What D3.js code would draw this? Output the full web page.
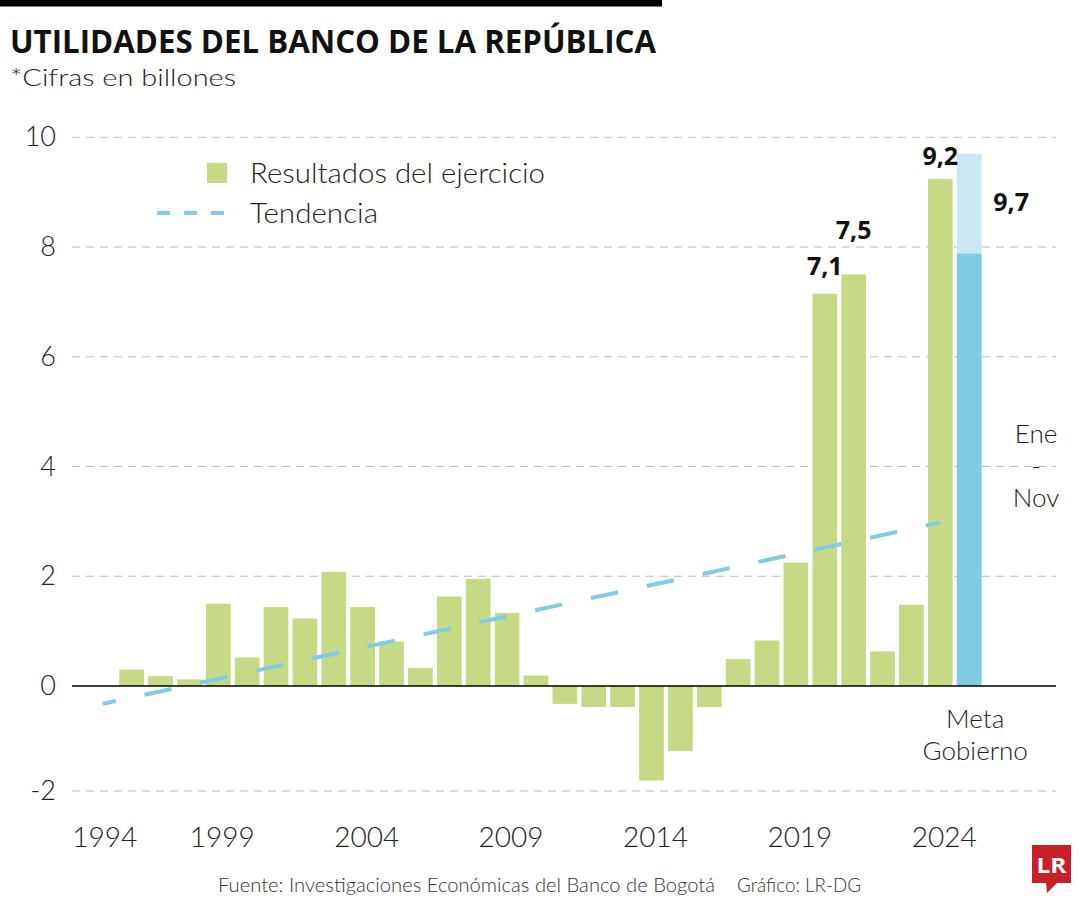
<!DOCTYPE html>
<html>
<head>
<meta charset="utf-8">
<script src="https://cdn.jsdelivr.net/npm/d3@7"></script>
<style>
  html, body { margin: 0; padding: 0; background: #fff; }
  svg { display: block; }
  text { font-family: "Open Sans", "Noto Sans", sans-serif; }
  text.lt { font-family: Lato, "Open Sans", sans-serif; font-weight: 300; }
</style>
</head>
<body>
<svg id="chart" width="1080" height="900"></svg>
<script>
// ---------------- DATA ----------------
const years = [1994, 1995, 1996, 1997, 1998, 1999, 2000, 2001, 2002, 2003, 2004,
               2005, 2006, 2007, 2008, 2009, 2010, 2011, 2012, 2013, 2014, 2015,
               2016, 2017, 2018, 2019, 2020, 2021, 2022, 2023, 2024];
// Resultados del ejercicio (billones), 1995..2023 (1994 has no bar)
const resultYears = [1995, 1996, 1997, 1998, 1999, 2000, 2001, 2002, 2003, 2004,
                     2005, 2006, 2007, 2008, 2009, 2010, 2011, 2012, 2013, 2014,
                     2015, 2016, 2017, 2018, 2019, 2020, 2021, 2022, 2023];
const resultValues = [0.30, 0.18, 0.12, 1.50, 0.52, 1.44, 1.23, 2.08, 1.44, 0.81,
                      0.33, 1.63, 1.95, 1.33, 0.19, -0.34, -0.40, -0.40, -1.80, -1.24,
                      -0.40, 0.49, 0.83, 2.25, 7.15, 7.50, 0.63, 1.48, 9.24];
// Meta Gobierno 2024: Ene-Nov actual and goal
const metaYear = 2024;
const metaEneNov = 7.88;
const metaGoal = 9.7;
// Tendencia
const trendYears = [1994, 2023];
const trendValues = [-0.34, 2.98];
// Axis ticks
const yTicks = [-2, 0, 2, 4, 6, 8, 10];
const xTickYears = [1994, 1999, 2004, 2009, 2014, 2019, 2024];
// Value labels
const labelYears = [2019, 2020, 2023, 2024];
const labelTexts = ["7,1", "7,5", "9,2", "9,7"];

// ---------------- LAYOUT ----------------
const svg = d3.select("#chart");
const GREEN = "#c6d985", BLUE = "#80cde3", LIGHTBLUE = "#cbe7f1", TREND = "#80cce4";

const x = d3.scaleBand().domain(years).range([88.3, 983.6])
  .paddingInner(0.145).paddingOuter(0.0725);
const y = d3.scaleLinear().domain([-2, 0, 10]).range([791, 686, 137.3]);
const bw = x.bandwidth();

svg.append("rect").attr("x", 0).attr("y", 0).attr("width", 1080).attr("height", 900).attr("fill", "#fff");
// top black bar
svg.append("rect").attr("x", 0).attr("y", 0).attr("width", 662).attr("height", 6.5).attr("fill", "#000");

// Title & subtitle
svg.append("text").attr("x", 10).attr("y", 52.5)
  .attr("font-size", 33).attr("font-weight", 700).attr("fill", "#111")
  .attr("textLength", 646).attr("lengthAdjust", "spacingAndGlyphs")
  .text("UTILIDADES DEL BANCO DE LA REPÚBLICA");
svg.append("text").attr("class", "lt").attr("x", 10).attr("y", 86)
  .attr("font-size", 24).attr("fill", "#222")
  .attr("textLength", 226).attr("lengthAdjust", "spacingAndGlyphs")
  .text("*Cifras en billones");

// Grid lines
const gx0 = 72, gx1 = 1056;
svg.append("g").selectAll("line").data(yTicks.filter(d => d !== 0)).join("line")
  .attr("x1", gx0).attr("x2", gx1)
  .attr("y1", d => y(d)).attr("y2", d => y(d))
  .attr("stroke", "#bcbcbc").attr("stroke-width", 1).attr("stroke-dasharray", "8,6");

// Y tick labels
svg.append("g").selectAll("text").data(yTicks).join("text")
  .attr("class", "lt")
  .attr("x", 56).attr("y", d => y(d) + 9)
  .attr("text-anchor", "end").attr("font-size", 27).attr("fill", "#222")
  .text(d => String(d));

// Bars
svg.append("g").selectAll("rect").data(resultYears.map((yr, i) => ({yr, v: resultValues[i]}))).join("rect")
  .attr("x", d => x(d.yr)).attr("width", bw)
  .attr("y", d => y(Math.max(0, d.v)))
  .attr("height", d => Math.abs(y(d.v) - y(0)))
  .attr("fill", GREEN);

// Meta bar: light goal then dark Ene-Nov
svg.append("rect").attr("x", x(metaYear)).attr("width", bw)
  .attr("y", y(metaGoal)).attr("height", y(0) - y(metaGoal)).attr("fill", LIGHTBLUE);
svg.append("rect").attr("x", x(metaYear)).attr("width", bw)
  .attr("y", y(metaEneNov)).attr("height", y(0) - y(metaEneNov)).attr("fill", BLUE);

// Zero axis line
svg.append("line").attr("x1", gx0).attr("x2", gx1).attr("y1", y(0)).attr("y2", y(0))
  .attr("stroke", "#000").attr("stroke-width", 1.5);

// Trend line
const line = d3.line().x(d => x(d[0]) + bw / 2).y(d => y(d[1]));
svg.append("path").datum(trendYears.map((t, i) => [t, trendValues[i]]))
  .attr("d", line).attr("fill", "none").attr("stroke", TREND)
  .attr("stroke-width", 4).attr("stroke-dasharray", "27.6,29.5").attr("stroke-dashoffset", 14.3);

// X tick labels (the reference places them slightly left of the bars)
svg.append("g").selectAll("text").data(xTickYears).join("text")
  .attr("class", "lt")
  .attr("x", d => d === years[0] ? x(d) + bw / 2 + 2 : x(d - 1) + bw / 2 + 4)
  .attr("y", 847).attr("text-anchor", "middle")
  .attr("font-size", 28).attr("fill", "#222")
  .text(d => d);

// Value labels
const labelDx = {2019: 0, 2020: 0, 2023: 0, 2024: 42};
const labelY = {2019: 275, 2020: 239, 2023: 165, 2024: 211};
svg.append("g").selectAll("text").data(labelYears.map((yr, i) => ({yr, t: labelTexts[i]}))).join("text")
  .attr("x", d => x(d.yr) + bw / 2 + labelDx[d.yr])
  .attr("y", d => labelY[d.yr])
  .attr("text-anchor", "middle").attr("font-size", 25).attr("font-weight", 700).attr("fill", "#111")
  .text(d => d.t);

// Ene - Nov annotation
const ann = svg.append("g").attr("fill", "#222").attr("text-anchor", "middle");
const annText = (xx, yy, t) => ann.append("text").attr("class", "lt").attr("font-size", 26)
  .attr("x", xx).attr("y", yy).text(t);
annText(1036, 443, "Ene");
annText(1036, 475, "-");
annText(1036, 507, "Nov");
// Meta Gobierno
annText(x(metaYear) + bw / 2 + 6, 728, "Meta");
annText(x(metaYear) + bw / 2 + 6, 760, "Gobierno");

// Legend
svg.append("rect").attr("x", 207).attr("y", 163).attr("width", 20).attr("height", 20).attr("fill", GREEN);
svg.append("line").attr("x1", 157).attr("x2", 227).attr("y1", 213).attr("y2", 213)
  .attr("stroke", TREND).attr("stroke-width", 4).attr("stroke-dasharray", "13,14");
svg.append("text").attr("class", "lt").attr("x", 250).attr("y", 183).attr("font-size", 28).attr("fill", "#222")
  .attr("textLength", 295).attr("lengthAdjust", "spacingAndGlyphs")
  .text("Resultados del ejercicio");
svg.append("text").attr("class", "lt").attr("x", 250).attr("y", 223).attr("font-size", 28).attr("fill", "#222")
  .attr("textLength", 128).attr("lengthAdjust", "spacingAndGlyphs")
  .text("Tendencia");

// Source
svg.append("text").attr("class", "lt").attr("x", 218).attr("y", 892).attr("font-size", 19).attr("fill", "#333")
  .attr("textLength", 497).attr("lengthAdjust", "spacingAndGlyphs")
  .text("Fuente: Investigaciones Económicas del Banco de Bogotá");
svg.append("text").attr("class", "lt").attr("x", 737).attr("y", 892).attr("font-size", 19).attr("fill", "#333")
  .attr("textLength", 124).attr("lengthAdjust", "spacingAndGlyphs")
  .text("Gráfico: LR-DG");

// Logo
const logo = svg.append("g");
logo.append("rect").attr("x", 1032).attr("y", 845).attr("width", 39).attr("height", 38).attr("fill", "#c8202a");
logo.append("path").attr("d", "M1046,882 L1058,882 L1047,893 Z").attr("fill", "#c8202a");
logo.append("text").attr("x", 1051.5).attr("y", 873).attr("text-anchor", "middle")
  .attr("font-family", "'DejaVu Serif', 'Liberation Serif', serif").attr("font-weight", 700)
  .attr("font-size", 21).attr("fill", "#fff").attr("textLength", 30).attr("lengthAdjust", "spacingAndGlyphs").text("LR");
</script>
</body>
</html>
